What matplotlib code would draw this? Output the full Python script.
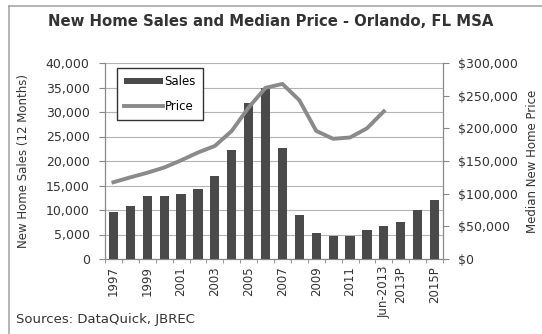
import matplotlib
matplotlib.use('Agg')
import matplotlib.pyplot as plt
import numpy as np
from matplotlib.lines import Line2D
from matplotlib.ticker import FuncFormatter, MultipleLocator

# annual new home sales and median price
years = ['1997', '1998', '1999', '2000', '2001', '2002', '2003', '2004', '2005', '2006',
         '2007', '2008', '2009', '2010', '2011', '2012', 'Jun-2013', '2013P', '2014P', '2015P']
shown = ['1997', '1999', '2001', '2003', '2005', '2007', '2009', '2011', 'Jun-2013', '2013P', '2015P']
sales = [9500, 10800, 12900, 12900, 13300, 14300, 16900, 22200, 31900, 35000,
         22600, 8900, 5400, 4600, 4600, 6000, 6800, 7500, 10000, 12100]
price = [117500, 125000, 132000, 140000, 151000, 163000, 173000, 196000, 232000, 262000,
         268000, 243000, 196000, 184000, 186000, 200000, 226000]

plt.rcParams['font.family'] = ['DejaVu Sans']
txt = '#333333'
axc = '#888888'

fig = plt.figure(figsize=(5.42, 3.34), dpi=100)
# frame around the chart (top and left edges)
fig.add_artist(Line2D([9 / 542, 1], [1 - 6 / 334, 1 - 6 / 334], transform=fig.transFigure,
                      color='#a8a8a8', lw=1.2))
fig.add_artist(Line2D([9 / 542, 9 / 542], [0, 1 - 6 / 334], transform=fig.transFigure,
                      color='#a8a8a8', lw=1.2))

ax = fig.add_axes([105 / 542, 1 - 259 / 334, 338 / 542, 196 / 334])
x = np.arange(len(years))
ax.bar(x, sales, width=0.55, color='#4a4a4a', label='Sales', zorder=3)
ax.set_ylim(0, 40000)
ax.set_xlim(-0.5, len(years) - 0.5)
ax.yaxis.set_major_locator(MultipleLocator(5000))
ax.yaxis.set_major_formatter(FuncFormatter(lambda v, p: f'{int(v):,}'))
ax.grid(axis='y', color='#b4b4b4', lw=0.8, zorder=0)
ax.set_ylabel('New Home Sales (12 Months)', fontsize=8.5, color=txt)
ax.yaxis.set_label_coords(-0.222, 0.5)

ax.set_xticks(x)
ax.set_xticklabels([y if y in shown else '' for y in years], rotation=90, fontsize=8.5)
ax.set_xticks(np.arange(-0.5, len(years)), minor=True)
ax.tick_params(axis='x', which='major', length=0, pad=5, labelcolor=txt)
ax.tick_params(axis='x', which='minor', length=3, color=axc)
ax.tick_params(axis='y', labelsize=9, length=4, color=axc, labelcolor=txt, pad=7)
ax.spines['top'].set_visible(False)
for s in ['left', 'bottom', 'right']:
    ax.spines[s].set_color(axc)

ax2 = ax.twinx()
ax2.plot(np.arange(len(price)), price, color='#8a8a8a', lw=2.8, label='Price', zorder=4)
ax2.set_ylim(0, 300000)
ax2.yaxis.set_major_locator(MultipleLocator(50000))
ax2.yaxis.set_major_formatter(FuncFormatter(lambda v, p: f'${int(v):,}'))
ax2.tick_params(axis='y', labelsize=9, length=4, color=axc, labelcolor=txt, pad=7)
ax2.set_ylabel('Median New Home Price', fontsize=8.5, color=txt, rotation=90, va='center')
ax2.yaxis.set_label_coords(1.266, 0.5)
ax2.spines['top'].set_visible(False)
for s in ['left', 'bottom', 'right']:
    ax2.spines[s].set_color(axc)

h1, l1 = ax.get_legend_handles_labels()
h2, l2 = ax2.get_legend_handles_labels()
leg = ax2.legend(h1 + h2, l1 + l2, loc='upper left', bbox_to_anchor=(0.036, 0.974),
                 fontsize=8.5, frameon=True, fancybox=False, edgecolor='#333333',
                 handlelength=3.3, handleheight=0.45, borderpad=0.6, labelspacing=1.0,
                 handletextpad=0.1, borderaxespad=0)
leg.get_frame().set_linewidth(1.0)
leg.get_frame().set_alpha(1)

fig.text(0.5, 1 - 21 / 334, 'New Home Sales and Median Price - Orlando, FL MSA',
         ha='center', va='center', fontsize=10.7, fontweight='bold', color=txt)
fig.text(16 / 542, 1 - 320 / 334, 'Sources: DataQuick, JBREC', ha='left', va='center',
         fontsize=9.5, color=txt)

fig.savefig('out.png', dpi=100)
